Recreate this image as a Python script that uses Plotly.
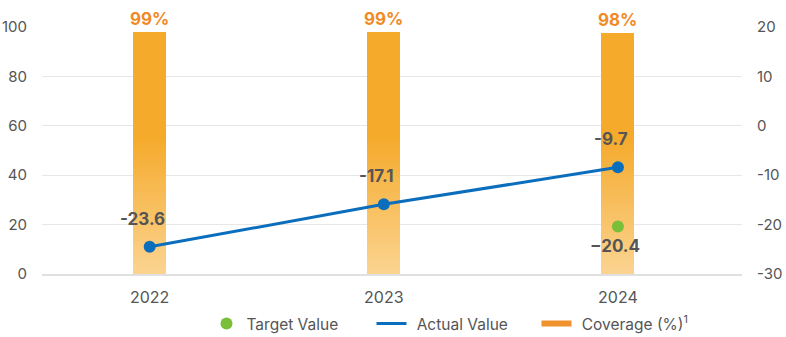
import plotly.graph_objects as go

years = ["2022", "2023", "2024"]
coverage = [98.1, 98.1, 97.5]
coverage_labels = ["99%", "99%", "98%"]
actual_values = [-24.5, -15.9, -8.4]
actual_labels = ["-23.6", "-17.1", "-9.7"]
target_years = ["2024"]
target_values = [-20.4]
target_labels = ["\u221220.4"]
left_ticks = [0, 20, 40, 60, 80, 100]
right_ticks = [-30, -20, -10, 0, 10, 20]
right_tick_text = ["-30", "-20", "-10", "0", "10", "20"]

FONT = "Inter"
GRAY = "#555555"
ORANGE_TOP = (245, 170, 44)
ORANGE_BOTTOM = (251, 212, 145)
BLUE = "#0a6ebd"
GREEN = "#79bf3a"
LEGEND_ORANGE = "#f0922e"

W, H = 786, 337
ML, MR, MT = 42, 44, 27
PLOT_BOTTOM_PX = 274  # pixel row of the x axis
PAPER_H = H - MT
Y_DOMAIN_LOW = (H - PLOT_BOTTOM_PX) / PAPER_H
PAD = "\u2004"  # small extra gap after line-type legend symbols


def grad_color(f):
    t = min(f / 0.55, 1.0)
    c = [round(b + (a - b) * t) for a, b in zip(ORANGE_TOP, ORANGE_BOTTOM)]
    return "rgb(%d,%d,%d)" % tuple(c)


def cat_index(yr):
    return years.index(yr)


fig = go.Figure()

N = 60
for k in range(N):
    bases = [v * k / N for v in coverage]
    heights = [v / N for v in coverage]
    colors = [grad_color((v * (k + 0.5) / N) / 100) for v in coverage]
    fig.add_trace(go.Bar(
        x=years, y=heights, base=bases, width=0.141,
        marker=dict(color=colors, line=dict(width=0)),
        showlegend=False, hoverinfo="skip", yaxis="y",
    ))

fig.add_trace(go.Scatter(
    x=target_years, y=target_values, mode="markers", name="Target Value",
    marker=dict(color=GREEN, size=12), yaxis="y2",
))
fig.add_trace(go.Scatter(
    x=years, y=actual_values, mode="lines+markers", name="Actual Value",
    line=dict(color=BLUE, width=3), marker=dict(color=BLUE, size=12), yaxis="y2",
    showlegend=False,
))
fig.add_trace(go.Scatter(
    x=[None], y=[None], mode="lines", name=PAD + "Actual Value",
    line=dict(color=BLUE, width=3), yaxis="y2",
))
fig.add_trace(go.Scatter(
    x=[None], y=[None], mode="lines", name=PAD + "Coverage (%)<sup>1</sup>",
    line=dict(color=LEGEND_ORANGE, width=6), yaxis="y",
))

annotations = []
for yr, v, lab in zip(years, coverage, coverage_labels):
    annotations.append(dict(
        x=cat_index(yr), y=v, xref="x", yref="y", text="<b>%s</b>" % lab,
        showarrow=False, yanchor="bottom", yshift=1,
        font=dict(family=FONT, size=17, color="#f08a24"),
    ))
for yr, v, lab in zip(years, actual_values, actual_labels):
    annotations.append(dict(
        x=cat_index(yr), y=v, xref="x", yref="y2", text="<b>%s</b>" % lab,
        showarrow=False, yshift=28, xshift=-7,
        font=dict(family=FONT, size=17, color=GRAY),
    ))
for yr, v, lab in zip(target_years, target_values, target_labels):
    annotations.append(dict(
        x=cat_index(yr), y=v, xref="x", yref="y2", text="<b>%s</b>" % lab,
        showarrow=False, yshift=-19, xshift=-3,
        font=dict(family=FONT, size=17, color=GRAY),
    ))

fig.update_layout(
    width=W, height=H,
    margin=dict(l=ML, r=MR, t=MT, b=0, autoexpand=False),
    paper_bgcolor="white", plot_bgcolor="white",
    barmode="overlay", bargap=0,
    font=dict(family=FONT, size=15, color=GRAY),
    annotations=annotations,
    xaxis=dict(
        type="category", range=[-0.46, 2.53], automargin=False,
        showgrid=False, showline=True, linecolor="#e0e0e0", linewidth=2,
        ticks="outside", ticklen=8, tickcolor="rgba(0,0,0,0)",
        tickfont=dict(family=FONT, size=16, color=GRAY),
    ),
    yaxis=dict(
        range=[0, 100], tickvals=left_ticks, showgrid=True, gridcolor="#e6e6e6",
        gridwidth=1, zeroline=False, showline=False, automargin=False,
        domain=[Y_DOMAIN_LOW, 1],
        ticks="outside", ticklen=11, tickcolor="rgba(0,0,0,0)",
        tickfont=dict(family=FONT, size=15, color=GRAY),
    ),
    yaxis2=dict(
        range=[-30, 20], overlaying="y", side="right", automargin=False,
        tickvals=right_ticks, ticktext=right_tick_text,
        showgrid=False, zeroline=False, showline=False,
        ticks="outside", ticklen=11, tickcolor="rgba(0,0,0,0)",
        tickfont=dict(family=FONT, size=15, color=GRAY),
    ),
    legend=dict(
        orientation="h", x=0.235, xanchor="left",
        y=(H - 324) / PAPER_H, yanchor="middle",
        entrywidth=120, font=dict(family=FONT, size=15.5, color=GRAY),
        bgcolor="rgba(0,0,0,0)",
    ),
    showlegend=True,
)

fig.write_html("out.html")
